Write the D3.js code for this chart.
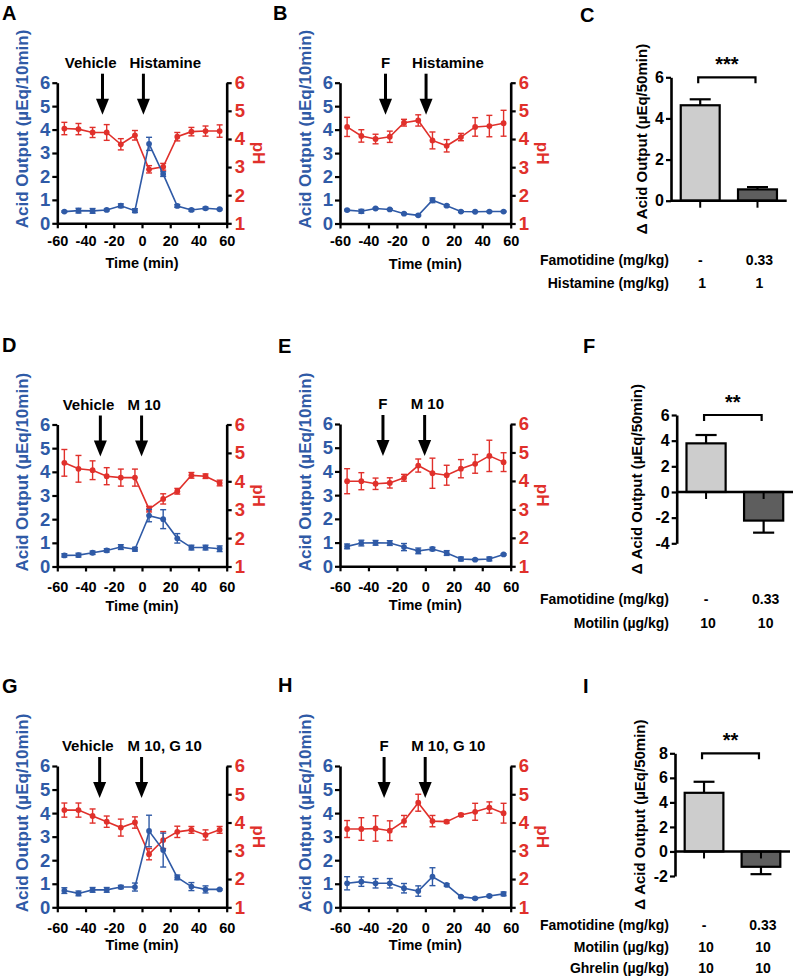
<!DOCTYPE html>
<html><head><meta charset="utf-8">
<script src="https://cdn.jsdelivr.net/npm/d3@7"></script>
<style>
body{margin:0;background:#fff}
svg text{font-family:Arial,"Liberation Sans",sans-serif;font-weight:bold}
</style>
</head><body>
<svg id="c" width="794" height="976"></svg>
<script>
// ---------- data ----------
const times = [-55,-45,-35,-25,-15,-5,5,15,25,35,45,55];
const timeTicks = [-60,-40,-20,0,20,40,60];
const acidTicks = [0,1,2,3,4,5,6];
const phTicks = [1,2,3,4,5,6];

const acidA = [0.5,0.54,0.53,0.57,0.75,0.54,3.39,2.1,0.74,0.57,0.64,0.6];
const acidAErr = [0.03,0.1,0.1,0.04,0.08,0.08,0.28,0.1,0.06,0.05,0.05,0.03];
const phA = [4.37,4.35,4.23,4.23,3.81,4.13,2.92,3.01,4.08,4.26,4.28,4.28];
const phAErr = [0.22,0.2,0.18,0.28,0.2,0.17,0.13,0.12,0.15,0.15,0.18,0.22];

const acidB = [0.57,0.52,0.64,0.6,0.42,0.35,0.99,0.76,0.51,0.5,0.51,0.51];
const acidBErr = [0.03,0.08,0.03,0.03,0.03,0.03,0.1,0.04,0.03,0.02,0.02,0.02];
const phB = [4.43,4.11,4.0,4.08,4.58,4.66,3.95,3.76,4.07,4.43,4.46,4.56];
const phBErr = [0.34,0.22,0.17,0.2,0.12,0.2,0.3,0.22,0.13,0.33,0.38,0.46];

const acidD = [0.47,0.48,0.58,0.68,0.82,0.73,2.15,2.0,1.19,0.8,0.8,0.75];
const acidDErr = [0.07,0.08,0.07,0.07,0.1,0.08,0.26,0.4,0.2,0.1,0.1,0.12];
const phD = [4.65,4.44,4.39,4.18,4.13,4.13,3.02,3.38,3.65,4.21,4.18,3.94];
const phDErr = [0.47,0.47,0.33,0.3,0.3,0.3,0.1,0.18,0.1,0.1,0.08,0.1];

const acidE = [0.84,0.98,0.99,0.98,0.81,0.65,0.73,0.56,0.31,0.28,0.31,0.5];
const acidEErr = [0.1,0.12,0.1,0.1,0.15,0.12,0.07,0.1,0.08,0.03,0.08,0.03];
const phE = [3.99,3.99,3.9,3.93,4.11,4.54,4.27,4.2,4.43,4.6,4.88,4.66];
const phEErr = [0.44,0.3,0.2,0.18,0.12,0.23,0.53,0.35,0.32,0.33,0.55,0.33];

const acidG = [0.71,0.59,0.74,0.74,0.86,0.86,3.24,2.43,1.27,0.88,0.76,0.76];
const acidGErr = [0.12,0.1,0.1,0.1,0.07,0.17,0.67,0.72,0.1,0.17,0.15,0.03];
const phG = [4.44,4.44,4.23,4.03,3.82,4.0,2.88,3.38,3.67,3.74,3.56,3.74];
const phGErr = [0.25,0.25,0.25,0.2,0.3,0.2,0.2,0.3,0.2,0.12,0.18,0.12];

const acidH = [1.02,1.09,1.02,1.02,0.81,0.69,1.3,0.95,0.45,0.38,0.48,0.57];
const acidHErr = [0.28,0.2,0.2,0.2,0.2,0.22,0.38,0.05,0.04,0.04,0.04,0.08];
const phH = [3.77,3.77,3.79,3.71,4.05,4.7,4.05,4.03,4.27,4.38,4.53,4.33];
const phHErr = [0.3,0.4,0.45,0.35,0.2,0.3,0.2,0.05,0.05,0.3,0.2,0.35];

const barGroups = ["Vehicle","Famotidine"];
const barC = [4.64,0.55], barCErr = [0.29,0.11];
const barF = [3.79,-2.23], barFErr = [0.65,0.94];
const barI = [4.78,-1.25], barIErr = [0.9,0.6];
const ticksC = [0,2,4,6], ticksF = [-4,-2,0,2,4,6], ticksI = [-2,0,2,4,6,8];

const rowLabelsC = ["Famotidine (mg/kg)","Histamine (mg/kg)"];
const rowValsC = [["-","0.33"],["1","1"]];
const rowLabelsF = ["Famotidine (mg/kg)","Motilin (\u00b5g/kg)"];
const rowValsF = [["-","0.33"],["10","10"]];
const rowLabelsI = ["Famotidine (mg/kg)","Motilin (\u00b5g/kg)","Ghrelin (\u00b5g/kg)"];
const rowValsI = [["-","0.33"],["10","10"],["10","10"]];

// ---------- drawing ----------
const svg = d3.select('#c');
const BLUE = '#2f5aa6', RED = '#e0302b';
const FONT = 'Arial, "Liberation Sans", sans-serif';

function styleAxis(sel, size, color){
  sel.attr('font-family', FONT).attr('font-size', size).attr('font-weight','bold');
  sel.select('.domain').attr('stroke','#000').attr('stroke-width',2.6);
  sel.selectAll('.tick line').attr('stroke','#000').attr('stroke-width',2.2);
  sel.selectAll('.tick text').attr('fill', color);
}

function panelLetter(txt, x, y){
  svg.append('text').attr('x',x).attr('y',y).attr('font-size',20).attr('fill','#000').text(txt);
}

function arrow(g, x, y0, y1){
  g.append('line').attr('x1',x).attr('x2',x).attr('y1',y0).attr('y2',y1-14)
    .attr('stroke','#000').attr('stroke-width',3);
  g.append('path').attr('d',`M${x-6.5},${y1-16}L${x+6.5},${y1-16}L${x},${y1}Z`).attr('fill','#000');
}

function timePanel(p){
  const x = d3.scaleLinear().domain([-60,60]).range([p.x0,p.x1]);
  const yA = d3.scaleLinear().domain([0,6]).range([p.bottom,p.top]);
  const yP = d3.scaleLinear().domain([1,6]).range([p.bottom,p.top]);
  const g = svg.append('g');

  const xa = g.append('g').attr('transform',`translate(0,${p.bottom})`)
    .call(d3.axisBottom(x).tickValues(timeTicks).tickSize(5).tickSizeOuter(0).tickPadding(p.pad).tickFormat(d=>String(d)));
  styleAxis(xa, 14.5, '#000');
  const la = g.append('g').attr('transform',`translate(${p.x0},0)`)
    .call(d3.axisLeft(yA).tickValues(acidTicks).tickSize(5).tickSizeOuter(0).tickPadding(2).tickFormat(d=>String(d)));
  styleAxis(la, 18.5, BLUE);
  const ra = g.append('g').attr('transform',`translate(${p.x1},0)`)
    .call(d3.axisRight(yP).tickValues(phTicks).tickSize(5).tickSizeOuter(0).tickPadding(3).tickFormat(d=>String(d)));
  styleAxis(ra, 18.5, RED);

  // axis titles
  g.append('text').attr('transform',`translate(${p.x0-35},${p.bottom+5}) rotate(-90)`)
    .attr('dominant-baseline','central').attr('font-size',17).attr('fill',BLUE)
    .text('Acid Output (\u00b5Eq/10min)');
  g.append('text').attr('transform',`translate(${p.x1+32},${(p.top+p.bottom)/2}) rotate(90)`)
    .attr('text-anchor','middle').attr('dominant-baseline','central').attr('font-size',17).attr('fill',RED)
    .text('pH');
  g.append('text').attr('x',(p.x0+p.x1)/2).attr('y',p.bottom+p.timeY).attr('text-anchor','middle')
    .attr('font-size',14.5).attr('fill','#000').text('Time (min)');

  // annotations
  p.annots.forEach(a=>{
    const ax = x(a.t);
    arrow(g, ax, p.top-9, p.top+32);
    const tx = a.anchor==='end' ? ax+14 : a.anchor==='start' ? ax-14 : ax;
    g.append('text').attr('x',tx).attr('y',p.top-15).attr('text-anchor',a.anchor)
      .attr('font-size',15).attr('fill','#000').text(a.text);
  });

  function series(vals, errs, y, color){
    const s = g.append('g');
    const pts = times.map((t,i)=>({t, v:vals[i], e:errs[i]}));
    s.append('path').datum(pts).attr('fill','none').attr('stroke',color).attr('stroke-width',1.6)
      .attr('d', d3.line().x(d=>x(d.t)).y(d=>y(d.v)));
    const eb = s.selectAll('g.eb').data(pts).enter().append('g');
    eb.append('line').attr('x1',d=>x(d.t)).attr('x2',d=>x(d.t))
      .attr('y1',d=>y(d.v-d.e)).attr('y2',d=>y(d.v+d.e)).attr('stroke',color).attr('stroke-width',1.4);
    eb.append('line').attr('x1',d=>x(d.t)-3).attr('x2',d=>x(d.t)+3)
      .attr('y1',d=>y(d.v+d.e)).attr('y2',d=>y(d.v+d.e)).attr('stroke',color).attr('stroke-width',1.4);
    eb.append('line').attr('x1',d=>x(d.t)-3).attr('x2',d=>x(d.t)+3)
      .attr('y1',d=>y(d.v-d.e)).attr('y2',d=>y(d.v-d.e)).attr('stroke',color).attr('stroke-width',1.4);
    eb.append('circle').attr('cx',d=>x(d.t)).attr('cy',d=>y(d.v)).attr('r',2.9).attr('fill',color);
  }
  series(p.ph, p.phErr, yP, RED);
  series(p.acid, p.acidErr, yA, BLUE);
}

function barPanel(p){
  const y = d3.scaleLinear().domain(p.domain).range([p.bottom,p.top]);
  const x = d3.scaleBand().domain(barGroups).range([p.ax, p.axEnd]).paddingInner(0.32).paddingOuter(0.17);
  const g = svg.append('g');
  const bw = x.bandwidth();
  barGroups.forEach((grp,i)=>{
    const v = p.vals[i], e = p.errs[i];
    const cx = x(grp)+bw/2;
    const ye = v>=0 ? y(v+e) : y(v-e);
    g.append('line').attr('x1',cx).attr('x2',cx).attr('y1',y(v)).attr('y2',ye).attr('stroke','#000').attr('stroke-width',2.2);
    g.append('line').attr('x1',cx-bw*0.27).attr('x2',cx+bw*0.27).attr('y1',ye).attr('y2',ye).attr('stroke','#000').attr('stroke-width',2.2);
    g.append('rect').attr('x',x(grp)).attr('width',bw)
      .attr('y',Math.min(y(v),y(0))).attr('height',Math.abs(y(v)-y(0)))
      .attr('fill', i===0 ? '#cdcdcd' : '#5e5e5e').attr('stroke','#000').attr('stroke-width',2.2);
    g.append('line').attr('x1',cx).attr('x2',cx).attr('y1',y(0)).attr('y2',y(0)+7).attr('stroke','#000').attr('stroke-width',2);
  });
  g.append('line').attr('x1',p.ax).attr('x2',p.axEnd).attr('y1',y(0)).attr('y2',y(0)).attr('stroke','#000').attr('stroke-width',2.6);
  const la = g.append('g').attr('transform',`translate(${p.ax},0)`)
    .call(d3.axisLeft(y).tickValues(p.ticks).tickSize(5).tickSizeOuter(0).tickPadding(2).tickFormat(d=>String(d)));
  styleAxis(la, 16, '#000');
  g.append('text').attr('transform',`translate(${p.labelX},${(p.top+p.bottom)/2}) rotate(-90)`)
    .attr('text-anchor','middle').attr('dominant-baseline','central').attr('font-size',15).attr('fill','#000')
    .text('\u0394 Acid Output (\u00b5Eq/50min)');
  const c1 = x(barGroups[0])+bw/2-2, c2 = x(barGroups[1])+bw/2-2;
  g.append('path').attr('d',`M${c1},${p.top+6}V${p.top}H${c2}V${p.top+6}`).attr('fill','none').attr('stroke','#000').attr('stroke-width',2.2);
  g.append('text').attr('x',(c1+c2)/2).attr('y',p.top-6).attr('text-anchor','middle').attr('font-size',20).attr('fill','#000').text(p.stars);
  p.rowLabels.forEach((lab,r)=>{
    const yy = p.rowY[r];
    g.append('text').attr('x',669).attr('y',yy).attr('text-anchor','end').attr('dominant-baseline','central')
      .attr('font-size',14).attr('fill','#000').text(lab);
    p.rowVals[r].forEach((val,i)=>{
      g.append('text').attr('x',x(barGroups[i])+bw/2+(val==='-'?0:2)).attr('y',yy).attr('text-anchor','middle').attr('dominant-baseline','central')
        .attr('font-size',14).attr('fill','#000').text(val);
    });
  });
}

// ---------- panels ----------
const L = {x0:57.3, x1:226.7}, M = {x0:340, x1:510.7};
timePanel({...L, top:82.7, bottom:223.3, pad:7, timeY:45, acid:acidA, acidErr:acidAErr, ph:phA, phErr:phAErr,
  annots:[{text:'Vehicle',t:-28,anchor:'end'},{text:'Histamine',t:1,anchor:'start'}]});
timePanel({...M, top:82.7, bottom:223.5, pad:7, timeY:45, acid:acidB, acidErr:acidBErr, ph:phB, phErr:phBErr,
  annots:[{text:'F',t:-28,anchor:'middle'},{text:'Histamine',t:0.5,anchor:'start'}]});
timePanel({...L, top:424.5, bottom:566.5, pad:10, timeY:44, acid:acidD, acidErr:acidDErr, ph:phD, phErr:phDErr,
  annots:[{text:'Vehicle',t:-29.5,anchor:'end'},{text:'M 10',t:-0.3,anchor:'start'}]});
timePanel({...M, top:424, bottom:566.3, pad:10, timeY:44, acid:acidE, acidErr:acidEErr, ph:phE, phErr:phEErr,
  annots:[{text:'F',t:-29.8,anchor:'middle'},{text:'M 10',t:-0.5,anchor:'start'}]});
timePanel({...L, top:766, bottom:907.3, pad:10, timeY:43, acid:acidG, acidErr:acidGErr, ph:phG, phErr:phGErr,
  annots:[{text:'Vehicle',t:-30,anchor:'end'},{text:'M 10, G 10',t:-0.3,anchor:'start'}]});
timePanel({...M, top:766, bottom:907.3, pad:10, timeY:43, acid:acidH, acidErr:acidHErr, ph:phH, phErr:phHErr,
  annots:[{text:'F',t:-29,anchor:'middle'},{text:'M 10, G 10',t:-0.1,anchor:'start'}]});

barPanel({ax:671, axEnd:786.7, top:77.3, bottom:200.7, domain:[0,6], ticks:ticksC, vals:barC, errs:barCErr,
  labelX:641.7, stars:'***', rowLabels:rowLabelsC, rowVals:rowValsC, rowY:[260,282.7]});
barPanel({ax:676.7, axEnd:793, top:415, bottom:543.3, domain:[-4,6], ticks:ticksF, vals:barF, errs:barFErr,
  labelX:636.7, stars:'**', rowLabels:rowLabelsF, rowVals:rowValsF, rowY:[599.3,622.7]});
barPanel({ax:675, axEnd:790, top:753.3, bottom:876, domain:[-2,8], ticks:ticksI, vals:barI, errs:barIErr,
  labelX:639, stars:'**', rowLabels:rowLabelsI, rowVals:rowValsI, rowY:[925,946.7,968.3]});

panelLetter('A',2,20); panelLetter('B',273,20); panelLetter('C',580,22);
panelLetter('D',2,352); panelLetter('E',278,353); panelLetter('F',583,353);
panelLetter('G',2,693); panelLetter('H',278,692); panelLetter('I',583,693);
</script>
</body></html>
